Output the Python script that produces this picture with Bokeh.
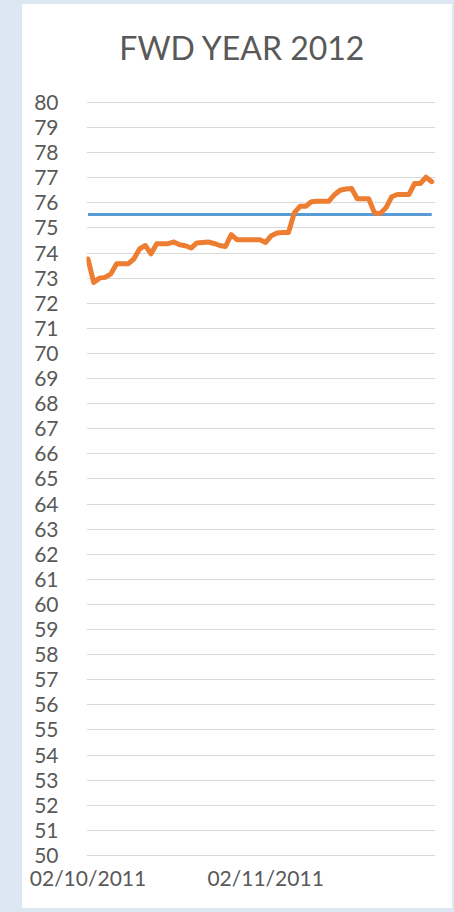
import datetime as dt
from bokeh.plotting import figure
from bokeh.models import Range1d, FixedTicker, DatetimeTickFormatter
from bokeh.core.properties import value
from bokeh.embed import file_html
from bokeh.resources import INLINE

# ---------------- data ----------------
title_text = "FWD YEAR 2012"
start_date = dt.datetime(2011, 10, 2)
fwd_prices = [
    73.76, 72.83, 73.00, 73.03, 73.17, 73.57, 73.57, 73.57, 73.76, 74.16,
    74.30, 73.97, 74.37, 74.37, 74.37, 74.44, 74.33, 74.29, 74.20, 74.40,
    74.42, 74.44, 74.38, 74.30, 74.26, 74.73, 74.53, 74.53, 74.53, 74.53,
    74.53, 74.42, 74.69, 74.80, 74.82, 74.82, 75.60, 75.86, 75.86, 76.04,
    76.06, 76.06, 76.06, 76.32, 76.50, 76.55, 76.57, 76.16, 76.16, 76.16,
    75.60, 75.57, 75.80, 76.24, 76.33, 76.33, 76.33, 76.77, 76.77, 77.02,
    76.84,
]
reference_level = 75.53
x_tick_dates = [dt.datetime(2011, 10, 2), dt.datetime(2011, 11, 2)]
y_ticks = list(range(50, 81))

dates = [start_date + dt.timedelta(days=i) for i in range(len(fwd_prices))]

# ---------------- styling ----------------
FONT = "Lato"
TXT = "#595959"
ORANGE = "#ED7D31"
BLUE = "#5B9BD5"
GRID = "#d9d9d9"

p = figure(
    width=430, height=904,
    x_axis_type="datetime",
    x_range=Range1d(start_date - dt.timedelta(hours=6.2), start_date + dt.timedelta(days=60.65)),
    y_range=Range1d(49.88, 83.90),
    output_backend="svg", toolbar_location=None,
    min_border_left=64, min_border_right=17, min_border_top=0, min_border_bottom=50,
)
p.margin = (4, 0, 0, 22)
p.styles = {"background-color": "white"}
p.background_fill_color = "white"
p.border_fill_color = "white"
p.outline_line_color = None

# gridlines
p.xgrid.grid_line_color = None
p.ygrid.grid_line_color = GRID
p.ygrid.grid_line_width = 1.2

# y axis
p.yaxis.ticker = FixedTicker(ticks=y_ticks)
p.yaxis.axis_line_color = None
p.yaxis.major_tick_line_color = None
p.yaxis.minor_tick_line_color = None
p.yaxis.major_label_text_font = FONT
p.yaxis.major_label_text_font_size = "21px"
p.yaxis.major_label_text_color = TXT
p.yaxis.major_label_standoff = 22

# x axis
tick_ms = [(d - dt.datetime(1970, 1, 1)).total_seconds() * 1000 for d in x_tick_dates]
p.xaxis.ticker = FixedTicker(ticks=tick_ms)
fmt = "%d/%m/%Y"
p.xaxis.formatter = DatetimeTickFormatter(
    microseconds=fmt, milliseconds=fmt, seconds=fmt, minsec=fmt, minutes=fmt,
    hourmin=fmt, hours=fmt, days=fmt, months=fmt, years=fmt,
)
p.xaxis.axis_line_color = None
p.xaxis.major_tick_line_color = None
p.xaxis.minor_tick_line_color = None
p.xaxis.major_label_text_font = FONT
p.xaxis.major_label_text_font_size = "21px"
p.xaxis.major_label_text_color = TXT
p.xaxis.major_label_standoff = 0

# series
p.line(x=[dates[0], dates[-1]], y=[reference_level, reference_level],
       line_color=BLUE, line_width=3)
p.line(x=dates, y=fwd_prices, line_color=ORANGE, line_width=5,
       line_join="round", line_cap="round")

# chart title, drawn in the top band of the plot area
p.text(x=[start_date + dt.timedelta(days=26.96)], y=[82.19], text=[title_text],
       text_font=value(FONT), text_font_size="32px", text_color=TXT,
       text_align="center", text_baseline="alphabetic")

html = file_html(p, INLINE, title=title_text)
html = html.replace("</head>", "<style>html,body{background:#dde7f3 !important;}</style></head>", 1)
open("out.html", "w").write(html)
